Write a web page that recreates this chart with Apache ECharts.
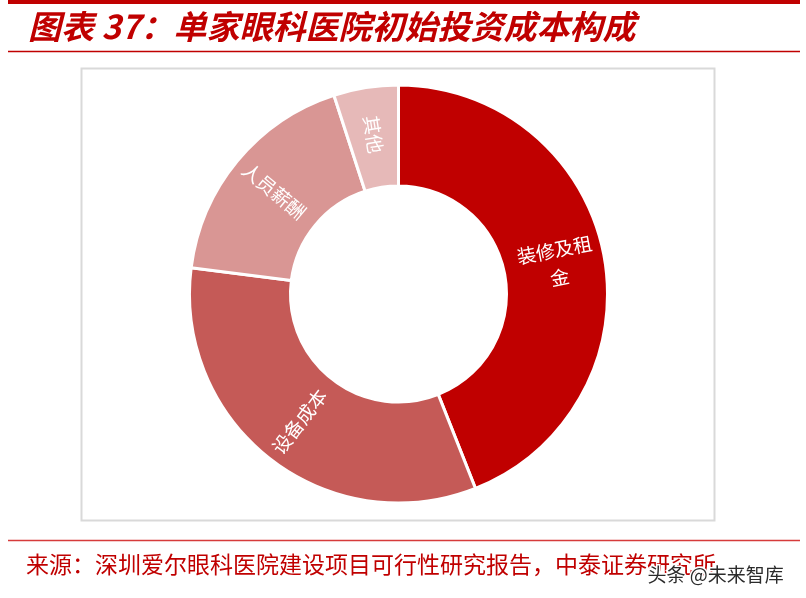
<!DOCTYPE html>
<html>
<head>
<meta charset="utf-8">
<script src="https://cdn.jsdelivr.net/npm/echarts@6/dist/echarts.min.js"></script>
<style>
html,body{margin:0;padding:0;background:#fff;}
#chart{width:806px;height:598px;}
</style>
</head>
<body>
<div id="chart"></div>
<script>
// Data
const categories = ['装修及租金', '设备成本', '人员薪酬', '其他'];
const values = [44, 33, 18, 5];
const colors = ['#C00000', '#C55A57', '#D99694', '#E6B9B8'];
const titleText = '图表 37：单家眼科医院初始投资成本构成';
const sourceText = '来源：深圳爱尔眼科医院建设项目可行性研究报告，中泰证券研究所';
const watermarkText = '头条 @未来智库';

const chart = echarts.init(document.getElementById('chart'), null, {renderer: 'canvas'});
const cjk = '"Noto Sans CJK SC", "Noto Sans", sans-serif';

const option = {
  backgroundColor: '#fff',
  animation: false,
  title: [
    {
      text: titleText,
      left: 28, top: 10, padding: 0,
      textStyle: {color: '#C00000', fontSize: 33, fontWeight: 'bold', fontStyle: 'italic', fontFamily: cjk}
    },
    {
      text: sourceText,
      left: 26, top: 553, padding: 0,
      textStyle: {color: '#C00000', fontSize: 23, fontWeight: 'normal', fontFamily: cjk}
    }
  ],
  graphic: [
    {type: 'rect', shape: {x: 8, y: 0, width: 792, height: 4}, style: {fill: '#C00000'}, z: 1},
    {type: 'line', shape: {x1: 8, y1: 51.5, x2: 800, y2: 51.5}, style: {stroke: '#C00000', lineWidth: 1.5}, z: 1},
    {type: 'line', shape: {x1: 8, y1: 540.5, x2: 800, y2: 540.5}, style: {stroke: '#D63B3B', lineWidth: 1.5}, z: 1},
    {type: 'rect', shape: {x: 81.5, y: 68.5, width: 633, height: 452}, style: {fill: 'none', stroke: '#D9D9D9', lineWidth: 2}, z: 0},
    {type: 'text', left: 646, top: 564, z: 100,
      style: {text: watermarkText, fill: '#2b2b2b', fontSize: 19, fontFamily: cjk,
        stroke: '#ffffff', lineWidth: 3}}
  ],
  series: [{
    type: 'pie',
    center: [398.5, 294],
    radius: [108, 209],
    startAngle: 90,
    clockwise: true,
    avoidLabelOverlap: false,
    itemStyle: {borderColor: '#fff', borderWidth: 3},
    label: {
      show: true,
      position: 'inside',
      rotate: 'radial',
      color: '#fff',
      fontSize: 19,
      fontFamily: cjk,
      width: 84,
      overflow: 'break',
      align: 'center',
      lineHeight: 28,
      formatter: '{b}'
    },
    labelLine: {show: false},
    emphasis: {disabled: true},
    data: categories.map((c, i) => ({name: c, value: values[i], itemStyle: {color: colors[i]}}))
  }]
};
chart.setOption(option);
</script>
</body>
</html>
